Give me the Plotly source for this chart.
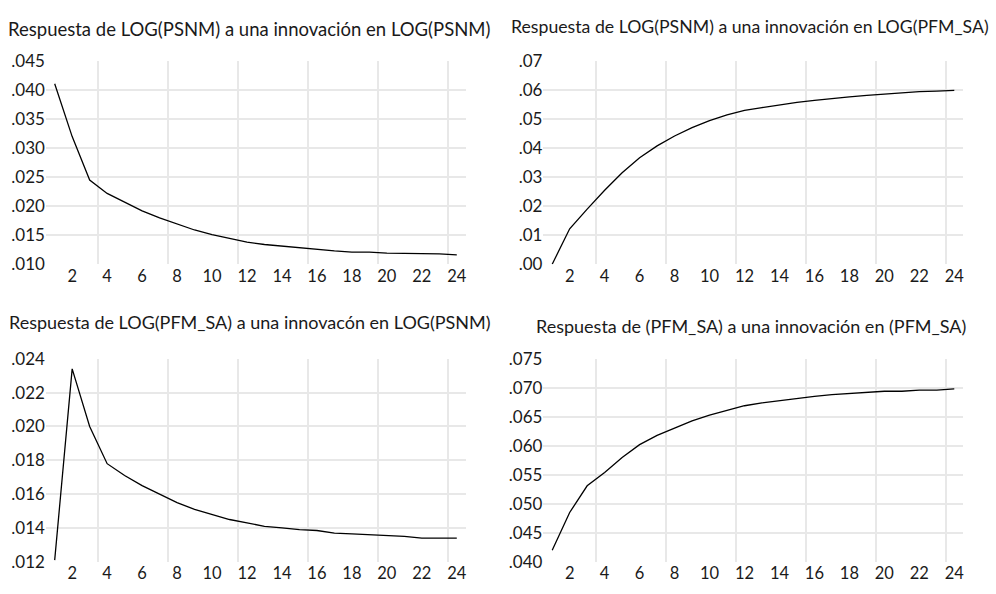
import plotly.graph_objects as go

periods = list(range(1, 25))

psnm_psnm = [0.0411, 0.0320, 0.0245, 0.0222, 0.0207, 0.0192, 0.0180, 0.0169,
             0.0159, 0.0151, 0.0144, 0.0138, 0.0134, 0.0131, 0.0128, 0.0125,
             0.0123, 0.0121, 0.0121, 0.0119, 0.0119, 0.0118, 0.0118, 0.0116]
psnm_pfm = [0.0000, 0.0122, 0.0190, 0.0255, 0.0315, 0.0367, 0.0408, 0.0442,
            0.0471, 0.0495, 0.0515, 0.0530, 0.0540, 0.0550, 0.0558, 0.0565,
            0.0572, 0.0577, 0.0582, 0.0587, 0.0591, 0.0595, 0.0597, 0.0599]
pfm_psnm = [0.0121, 0.0234, 0.0200, 0.0178, 0.0171, 0.0165, 0.0160, 0.0155,
            0.0151, 0.0148, 0.0145, 0.0143, 0.0141, 0.0140, 0.0139, 0.01385,
            0.0137, 0.01365, 0.0136, 0.01355, 0.0135, 0.0134, 0.0134, 0.0134]
pfm_pfm = [0.0420, 0.0485, 0.0531, 0.0554, 0.0580, 0.0602, 0.0618, 0.0631,
           0.0643, 0.0653, 0.0661, 0.0669, 0.0674, 0.0678, 0.0682, 0.0685,
           0.0688, 0.0690, 0.0692, 0.0694, 0.0694, 0.0696, 0.0696, 0.0698]

titles = [
    "Respuesta de LOG(PSNM) a una innovación en LOG(PSNM)",
    "Respuesta de LOG(PSNM) a una innovación en LOG(PFM_SA)",
    "Respuesta de LOG(PFM_SA) a una innovacón en LOG(PSNM)",
    "Respuesta de (PFM_SA) a una innovación en (PFM_SA)",
]

x_tickvals = list(range(2, 25, 2))
x_gridvals = [3.5, 7.5, 11.5, 15.5, 19.5, 23.5]

y_ticks = [
    [0.010, 0.015, 0.020, 0.025, 0.030, 0.035, 0.040, 0.045],
    [0.00, 0.01, 0.02, 0.03, 0.04, 0.05, 0.06, 0.07],
    [0.012, 0.014, 0.016, 0.018, 0.020, 0.022, 0.024],
    [0.040, 0.045, 0.050, 0.055, 0.060, 0.065, 0.070, 0.075],
]
y_ticktext = [
    [".010", ".015", ".020", ".025", ".030", ".035", ".040", ".045"],
    [".00", ".01", ".02", ".03", ".04", ".05", ".06", ".07"],
    [".012", ".014", ".016", ".018", ".020", ".022", ".024"],
    [".040", ".045", ".050", ".055", ".060", ".065", ".070", ".075"],
]

series = [psnm_psnm, psnm_pfm, pfm_psnm, pfm_pfm]

W, H = 996, 594
FONT = "Lato"
GRID = "#e8e8e8"
TXT = "#1a1a1a"

x_dom = [[46 / W, 466 / W], [544 / W, 964 / W]]
y_dom = [[1 - 262.5 / H, 1 - 52 / H], [1 - 571 / H, 1 - 360.5 / H]]

fig = go.Figure()
layout = dict(
    width=W, height=H,
    margin=dict(l=0, r=0, t=0, b=0),
    paper_bgcolor="white", plot_bgcolor="white",
    showlegend=False,
    font=dict(family=FONT, size=17, color=TXT),
)

for i in range(4):
    r, c = divmod(i, 2)
    n = i + 1
    xa = "x" if n == 1 else f"x{n}"
    ya = "y" if n == 1 else f"y{n}"
    fig.add_trace(go.Scatter(x=periods, y=series[i], mode="lines",
                             line=dict(color="black", width=1.3),
                             xaxis=xa, yaxis=ya, hoverinfo="skip"))
    yt = y_ticks[i]
    layout["xaxis" if n == 1 else f"xaxis{n}"] = dict(
        domain=x_dom[c], anchor=ya, range=[0.5, 24.5],
        tickmode="array", tickvals=x_tickvals,
        showgrid=False, zeroline=False, showline=False, ticks="",
        tickfont=dict(family=FONT, size=16.5, color=TXT),
        minor=dict(tickmode="array", tickvals=x_gridvals, showgrid=True,
                   gridcolor=GRID, gridwidth=1.5, ticks=""),
    )
    layout["yaxis" if n == 1 else f"yaxis{n}"] = dict(
        domain=y_dom[r], anchor=xa, range=[yt[0], yt[-1]],
        tickmode="array", tickvals=yt, ticktext=y_ticktext[i],
        showgrid=True, gridcolor=GRID, gridwidth=1.5,
        zeroline=False, showline=False, ticks="",
        tickfont=dict(family=FONT, size=17, color=TXT),
    )

title_pos = [(250, 19), (751, 16), (250, 322), (752, 327)]
title_size = [18.5, 17.7, 18.0, 18.0]
anns = []
for t, (px, py), fs in zip(titles, title_pos, title_size):
    anns.append(dict(text=t, x=px / W, y=1 - py / H, xref="paper", yref="paper",
                     xanchor="center", yanchor="middle", showarrow=False,
                     font=dict(family=FONT, size=fs, color=TXT)))
layout["annotations"] = anns

fig.update_layout(**layout)
fig.write_html("out.html")
